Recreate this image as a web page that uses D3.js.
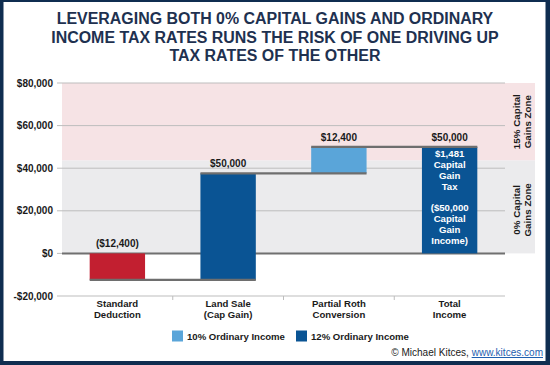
<!DOCTYPE html>
<html><head><meta charset="utf-8">
<script src="https://cdn.jsdelivr.net/npm/d3@7"></script>
<style>
html,body{margin:0;padding:0;background:#fff;}
svg{display:block;font-family:"Liberation Sans",Arial,sans-serif;}
</style></head>
<body>
<svg id="c" width="550" height="365"></svg>
<script>
// ---- data ----
const titleLines = ["LEVERAGING BOTH 0% CAPITAL GAINS AND ORDINARY","INCOME TAX RATES RUNS THE RISK OF ONE DRIVING UP","TAX RATES OF THE OTHER"];
const categories = ["Standard Deduction","Land Sale (Cap Gain)","Partial Roth Conversion","Total Income"];
const categoryLines = [["Standard","Deduction"],["Land Sale","(Cap Gain)"],["Partial Roth","Conversion"],["Total","Income"]];
const barStart = [0, -12400, 37600, 0];
const barEnd = [-12400, 37600, 50000, 50000];
const barLabels = ["($12,400)","$50,000","$12,400","$50,000"];
const barType = ["deduction","12%","10%","12%"];
const yTicks = [-20000, 0, 20000, 40000, 60000, 80000];
const zoneBounds = [0, 43700, 80000];
const zoneLabels = [["0% Capital","Gains Zone"],["15% Capital","Gains Zone"]];
const totalNote = ["$1,481","Capital","Gain","Tax","","($50,000","Capital","Gain","Income)"];
const legendItems = [{label:"10% Ordinary Income", type:"10%"},{label:"12% Ordinary Income", type:"12%"}];

const colors = {"deduction":"#C21F30","12%":"#0A5494","10%":"#5AA5D9"};
const navy = "#0F2D50";
const ink = "#1a1a1a";

const svg = d3.select("#c");
const W = 550, H = 365;

// frame
svg.append("rect").attr("x",0).attr("y",0).attr("width",W).attr("height",H).attr("fill",navy);
svg.append("rect").attr("x",3.5).attr("y",2).attr("width",W-3.5-4.5).attr("height",361-2).attr("fill","#fff");

// title
const tBase = [24, 42.5, 61];
const title = svg.append("text").attr("text-anchor","middle")
  .attr("fill","#1E3150").attr("font-weight",700).attr("font-size",16);
const tspans = title.selectAll("tspan").data(titleLines).join("tspan")
  .attr("x",275).attr("y",(d,i)=>tBase[i]).text(d=>d);
const w2 = tspans.nodes()[1].getComputedTextLength();
title.attr("font-size",Math.min(16.4, 16*448/w2));

// scales
const x = d3.scaleBand().domain(categories).range([62,505]).paddingInner(0.5).paddingOuter(0.25);
const y = d3.scaleLinear().domain([-20000,80000]).range([296,83]);

// zones
const zoneFill = ["#EBEBED","#F6E3E5"];
for (let i=0;i<2;i++){
  svg.append("rect").attr("x",62).attr("width",535-62)
    .attr("y",y(zoneBounds[i+1])).attr("height",y(zoneBounds[i])-y(zoneBounds[i+1]))
    .attr("fill",zoneFill[i]);
}

// grid
svg.append("g").selectAll("line").data(yTicks).join("line")
  .attr("x1",57).attr("x2",505).attr("y1",d=>y(d)).attr("y2",d=>y(d))
  .attr("stroke","#BDBDBD").attr("stroke-width",1);
// y labels
svg.append("g").selectAll("text").data(yTicks).join("text")
  .attr("x",53).attr("y",d=>y(d)+3.5).attr("text-anchor","end")
  .attr("font-size",10).attr("font-weight",700).attr("fill",ink)
  .text(d=> d<0 ? "-$"+d3.format(",")(-d) : "$"+d3.format(",")(d));
// x axis ticks
const bounds = categories.slice(1).map(c=>x(c)-x.step()*x.paddingInner()/2);
svg.append("g").selectAll("line").data(bounds).join("line")
  .attr("x1",d=>d).attr("x2",d=>d).attr("y1",y(-20000)).attr("y2",y(-20000)+4)
  .attr("stroke","#BDBDBD");

// zero line
svg.append("line").attr("x1",62).attr("x2",505).attr("y1",y(0)).attr("y2",y(0))
  .attr("stroke","#707070").attr("stroke-width",2);

// bars
svg.append("g").selectAll("rect").data(categories).join("rect")
  .attr("x",d=>x(d)).attr("width",x.bandwidth())
  .attr("y",(d,i)=>y(Math.max(barStart[i],barEnd[i])))
  .attr("height",(d,i)=>Math.abs(y(barStart[i])-y(barEnd[i])))
  .attr("fill",(d,i)=>colors[barType[i]]);

// connectors
const conn = svg.append("g");
for (let i=0;i<categories.length-1;i++){
  conn.append("line")
    .attr("x1",x(categories[i])).attr("x2",x(categories[i+1])+x.bandwidth())
    .attr("y1",y(barEnd[i])).attr("y2",y(barEnd[i]))
    .attr("stroke","#6E6E6E").attr("stroke-width",2.2);
}

// bar labels
svg.append("g").selectAll("text").data(categories).join("text")
  .attr("x",d=>x(d)+x.bandwidth()/2)
  .attr("y",(d,i)=>y(Math.max(barStart[i],barEnd[i]))-6)
  .attr("text-anchor","middle").attr("font-size",10).attr("font-weight",700).attr("fill",ink)
  .text((d,i)=>barLabels[i]);

// note inside total bar
const tc = categories[3];
const note = svg.append("text").attr("text-anchor","middle").attr("font-size",9.6)
  .attr("font-weight",700).attr("fill","#fff");
note.selectAll("tspan").data(totalNote.map((d,i)=>({d,i})).filter(o=>o.d!=="")).join("tspan")
  .attr("x",x(tc)+x.bandwidth()/2).attr("y",o=>y(barEnd[3])+10.5+o.i*10.8)
  .text(o=>o.d);

// category labels
categories.forEach((c,i)=>{
  const t = svg.append("text").attr("text-anchor","middle").attr("font-size",9.6)
    .attr("font-weight",700).attr("fill",ink);
  categoryLines[i].forEach((s,j)=>{
    t.append("tspan").attr("x",x(c)+x.bandwidth()/2).attr("y",307+j*11).text(s);
  });
});

// zone labels
zoneLabels.forEach((lines,i)=>{
  const cy = (y(zoneBounds[i])+y(zoneBounds[i+1]))/2 + (i===0?3:0);
  const t = svg.append("text").attr("transform",`translate(520,${cy}) rotate(-90)`)
    .attr("text-anchor","middle").attr("font-size",9.8).attr("font-weight",700).attr("fill",ink);
  lines.forEach((s,j)=>{
    t.append("tspan").attr("x",0).attr("y",j*11).text(s);
  });
});

// legend
const lx = [172, 296];
legendItems.forEach((d,i)=>{
  svg.append("rect").attr("x",lx[i]).attr("y",330.5).attr("width",11).attr("height",11).attr("fill",colors[d.type]);
  const t = svg.append("text").attr("x",lx[i]+15).attr("y",340).attr("font-size",10).attr("font-weight",700)
    .attr("fill",ink).text(d.label);
  const w = t.node().getComputedTextLength();
  t.attr("font-size",10*98/w);
});

// copyright
const cp = svg.append("text").attr("x",543).attr("y",356).attr("text-anchor","end")
  .attr("font-size",10).attr("fill",ink);
cp.append("tspan").text("© Michael Kitces, ");
cp.append("tspan").attr("fill","#1F5FB0").attr("text-decoration","underline").text("www.kitces.com");
const cw = cp.node().getComputedTextLength();
cp.attr("font-size",10*152/cw);
</script>
</body></html>
